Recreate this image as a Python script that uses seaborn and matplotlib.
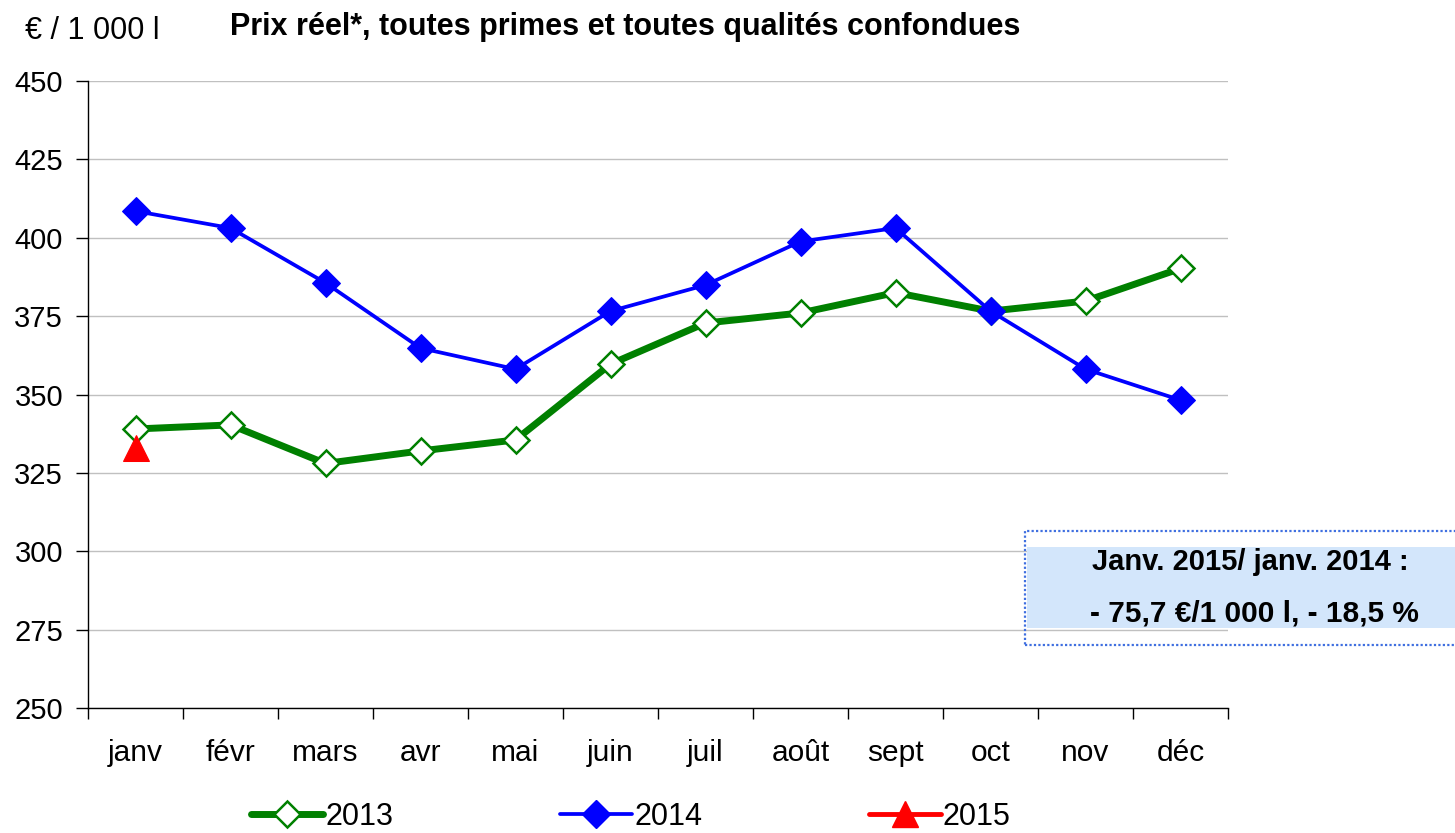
import matplotlib
matplotlib.use("Agg")
import matplotlib.pyplot as plt
import seaborn as sns
import pandas as pd
import numpy as np
from matplotlib.patches import Rectangle
from matplotlib.lines import Line2D

months = ["janv", "févr", "mars", "avr", "mai", "juin", "juil", "août", "sept", "oct", "nov", "déc"]
prix_2013 = [339.0, 340.3, 328.0, 332.0, 335.5, 359.7, 372.8, 376.0, 382.5, 376.6, 379.8, 390.2]
prix_2014 = [408.5, 403.1, 385.6, 364.8, 358.1, 376.6, 384.9, 398.8, 403.1, 376.6, 358.1, 348.2]
prix_2015 = [332.8]
y_ticks = [250, 275, 300, 325, 350, 375, 400, 425, 450]

sns.set_theme(style="white")
plt.rcParams['font.family'] = ['Liberation Sans', 'DejaVu Sans']
plt.rcParams['text.color'] = 'black'
plt.rcParams['xtick.color'] = 'black'
plt.rcParams['ytick.color'] = 'black'
plt.rcParams['axes.labelcolor'] = 'black'

fig = plt.figure(figsize=(14.55, 8.33), dpi=100)
ax = fig.add_axes([88/1455, 1-708/833, (1228-88)/1455, (708-81)/833])

df13 = pd.DataFrame({"x": np.arange(len(prix_2013)), "v": prix_2013})
df14 = pd.DataFrame({"x": np.arange(len(prix_2014)), "v": prix_2014})
df15 = pd.DataFrame({"x": np.arange(len(prix_2015)), "v": prix_2015})

sns.lineplot(data=df13, x="x", y="v", ax=ax, color="#008000", linewidth=5,
             marker="D", markersize=13, markerfacecolor="white",
             markeredgecolor="#008000", markeredgewidth=1.8, zorder=3)
sns.lineplot(data=df14, x="x", y="v", ax=ax, color="#0000ff", linewidth=2.7,
             marker="D", markersize=14.5, markerfacecolor="#0000ff",
             markeredgecolor="#0000ff", zorder=4)
sns.lineplot(data=df15, x="x", y="v", ax=ax, color="#ff0000", linewidth=3.5,
             marker="^", markersize=19, markerfacecolor="#ff0000",
             markeredgecolor="#ff0000", zorder=5)

ax.set_xlim(-0.5, len(months) - 0.5)
ax.set_ylim(250, 450)
ax.set_yticks(y_ticks)
ax.set_yticklabels([str(t) for t in y_ticks], fontsize=21)
ax.set_xticks(np.arange(len(months)))
ax.set_xticklabels(months, fontsize=21.5)
ax.set_xticks(np.arange(len(months) + 1) - 0.5, minor=True)
ax.tick_params(axis="x", which="major", length=0, pad=22)
ax.tick_params(axis="x", which="minor", length=8, width=1, direction="out", bottom=True)
ax.tick_params(axis="y", which="major", length=9, width=1, direction="out", left=True, pad=9)
ax.grid(axis="y", color="#c0c0c0", linewidth=1)
ax.set_axisbelow(True)
for s in ["top", "right"]:
    ax.spines[s].set_visible(False)
for s in ["left", "bottom"]:
    ax.spines[s].set_color("black")
    ax.spines[s].set_linewidth(1)
ax.set_xlabel("")
ax.set_ylabel("")

fig.text(25/1455, 1-31/833, "€ / 1 000 l", fontsize=22, va="center", ha="left")
fig.text(230/1455, 1-27/833, "Prix réel*, toutes primes et toutes qualités confondues",
         fontsize=22, fontweight="bold", va="center", ha="left")

# annotation box
fig.patches.append(Rectangle((1027/1455, 1-628/833), (1455-1027)/1455, (628-547)/833,
                             transform=fig.transFigure, facecolor="#d3e6fb", edgecolor="none", zorder=1))
fig.patches.append(Rectangle((1025/1455, 1-645/833), (1465-1025)/1455, (645-531)/833,
                             transform=fig.transFigure, facecolor="none", edgecolor="#3f6fe0",
                             linestyle=(0, (1, 1)), linewidth=1.6, zorder=2))
fig.text(1250/1455, 1-562/833, "Janv. 2015/ janv. 2014 :", fontsize=21, fontweight="bold",
         ha="center", va="center")
fig.text(1254/1455, 1-613/833, "- 75,7 €/1 000 l, - 18,5 %", fontsize=21.5, fontweight="bold",
         ha="center", va="center")

handles = [
    Line2D([], [], color="#008000", linewidth=5, marker="D", markersize=13,
           markerfacecolor="white", markeredgecolor="#008000", markeredgewidth=1.8),
    Line2D([], [], color="#0000ff", linewidth=2.7, marker="D", markersize=14.5,
           markerfacecolor="#0000ff", markeredgecolor="#0000ff"),
    Line2D([], [], color="#ff0000", linewidth=3.5, marker="^", markersize=19,
           markerfacecolor="#ff0000", markeredgecolor="#ff0000"),
]
fig.legend(handles, ["2013", "2014", "2015"], loc="center", bbox_to_anchor=(631/1455, 1-817/833),
           ncol=3, frameon=False, fontsize=22, handlelength=2.35, handletextpad=0.08,
           columnspacing=5.45, borderpad=0, borderaxespad=0)

fig.savefig("out.png", dpi=100)
